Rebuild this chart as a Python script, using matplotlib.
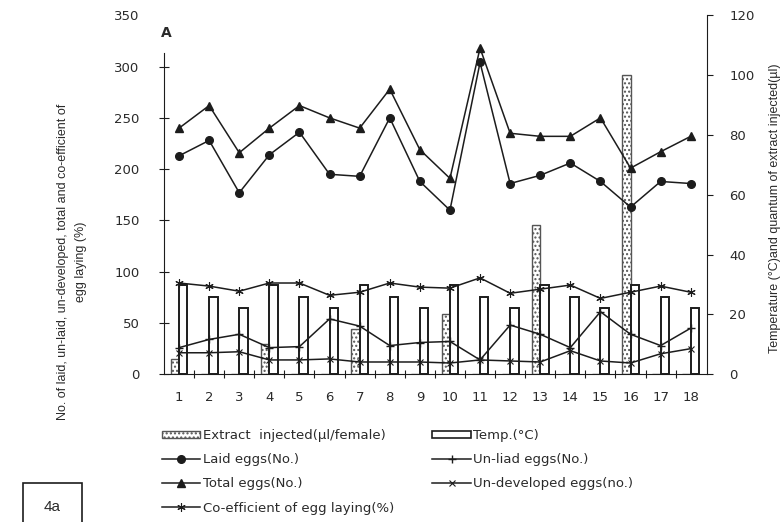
import numpy as np
import matplotlib
matplotlib.use("Agg")
import matplotlib.pyplot as plt
from matplotlib.patches import Rectangle, Patch
from matplotlib.lines import Line2D

# ---------------- data ----------------
days = [1, 2, 3, 4, 5, 6, 7, 8, 9, 10, 11, 12, 13, 14, 15, 16, 17, 18]
day_labels = [str(d) for d in days]
extract = [5, 0, 0, 10, 0, 0, 15, 0, 0, 20, 0, 0, 50, 0, 0, 100, 0, 0]
temp = [30, 26, 22, 30, 26, 22, 30, 26, 22, 30, 26, 22, 30, 26, 22, 30, 26, 22]
laid = [213, 228, 177, 214, 236, 195, 193, 250, 188, 160, 304, 186, 194, 206, 188, 163, 188, 186]
total = [240, 262, 216, 240, 262, 250, 240, 278, 219, 191, 318, 235, 232, 232, 250, 201, 217, 232]
unlaid = [26, 34, 39, 26, 27, 54, 47, 28, 31, 32, 14, 48, 39, 26, 61, 39, 28, 45]
undeveloped = [21, 21, 22, 14, 14, 15, 12, 12, 12, 11, 14, 13, 12, 23, 13, 11, 20, 25]
coeff = [89, 86, 81, 89, 89, 77, 80, 89, 85, 84, 94, 79, 83, 87, 74, 80, 86, 80]
left_ticks = [0, 50, 100, 150, 200, 250, 300, 350]
right_ticks = [0, 20, 40, 60, 80, 100, 120]

INK = "#1c1c1c"
TXT = "#2a2a2a"
TICKFONT = "DejaVu Sans"
LABELFONT = "Liberation Sans"

fig = plt.figure(figsize=(7.83, 5.22), dpi=100)
ax = fig.add_axes([164 / 783, 1 - 374.3 / 522, (707 - 164) / 783, (374.3 - 15.3) / 522])
ax2 = ax.twinx()
ax.set_zorder(ax2.get_zorder() + 1)
ax.patch.set_visible(False)

x = np.array(days, dtype=float)

# bars on the right axis
ax2.bar(x, extract, width=-0.28, align="edge", facecolor="white",
        edgecolor="#555555", hatch="....", linewidth=1.0)
ax2.bar(x, temp, width=0.28, align="edge", facecolor="white",
        edgecolor=INK, linewidth=1.4)

# lines on the left axis
l_laid, = ax.plot(x, laid, "-", marker="o", color=INK, ms=5.5, lw=1.1)
l_total, = ax.plot(x, total, "-", marker="^", color=INK, ms=5.5, lw=1.1)
l_unlaid, = ax.plot(x, unlaid, "-", marker="+", color=INK, ms=6, mew=1.0, lw=1.1)
l_undev, = ax.plot(x, undeveloped, "-", marker="x", color=INK, ms=4, mew=0.8, lw=1.1)
l_coeff, = ax.plot(x, coeff, "-", marker=(6, 2, 0), color=INK, ms=6, mew=0.8, lw=1.1)

# limits
ax.set_xlim(0.5, 18.54)
ax.set_ylim(0, 350)
ax2.set_ylim(0, 120)

# spines
for s in ["top", "right"]:
    ax.spines[s].set_visible(False)
for s in ["top", "left", "bottom"]:
    ax2.spines[s].set_visible(False)
ax.spines["left"].set_bounds(0, 313)
ax.spines["left"].set_color(INK)
ax.spines["bottom"].set_color(INK)
ax2.spines["right"].set_color(INK)

# ticks
ax.set_yticks(left_ticks)
ax.set_yticklabels([str(v) for v in left_ticks], family=TICKFONT)
ax.tick_params(axis="y", direction="inout", length=7, width=0.8, pad=14,
               labelsize=9.5, labelcolor=TXT, color=INK)
ax.yaxis.get_major_ticks()[-1].tick1line.set_visible(False)

ax.set_xticks(x)
ax.set_xticklabels(day_labels, family=TICKFONT)
ax.set_xticks(np.array(days[:-1]) + 0.5, minor=True)
ax.tick_params(axis="x", which="major", length=0, pad=12, labelsize=9.5, labelcolor=TXT)
ax.tick_params(axis="x", which="minor", direction="inout", length=6, width=0.8, color=INK)

ax2.set_yticks(right_ticks)
ax2.set_yticklabels([str(v) for v in right_ticks], family=TICKFONT)
ax2.tick_params(axis="y", direction="out", length=4, width=0.8, pad=12,
                labelsize=9.5, labelcolor=TXT, color=INK)

# texts
fig.text(166 / 783, 1 - 33 / 522, "A", fontsize=10, fontweight="bold",
         family=TICKFONT, color=TXT, ha="center", va="center")
fig.text(72 / 783, 1 - 262 / 522,
         "No. of laid, un-laid, un-developed, total and co-efficient of\negg laying (%)",
         rotation=90, ha="center", va="center", multialignment="center",
         fontsize=9, linespacing=1.6, family=LABELFONT, color=TXT)
fig.text(775 / 783, 1 - 208 / 522,
         "Temperature (°C)and quantum of extract injected(µl)",
         rotation=90, ha="center", va="center", fontsize=9,
         family=LABELFONT, color=TXT)

# legend
h_extract = Patch(facecolor="white", edgecolor="#555555", hatch="....", linewidth=1.0)
h_temp = Patch(facecolor="white", edgecolor=INK, linewidth=1.2)
handles = [h_extract, l_laid, l_total, l_coeff, h_temp, l_unlaid, l_undev]
labels = ["Extract  injected(µl/female)", "Laid eggs(No.)", "Total eggs(No.)",
          "Co-efficient of egg laying(%)", "Temp.(°C)", "Un-liad eggs(No.)",
          "Un-developed eggs(no.)"]
leg = fig.legend(handles, labels, ncol=2, loc="upper left",
                 bbox_to_anchor=(162 / 783, 1 - 429 / 522), frameon=False,
                 prop={"family": TICKFONT, "size": 9.5}, handlelength=2.9,
                 handleheight=0.5, handletextpad=0.2, columnspacing=2.9,
                 labelspacing=0.85, borderpad=0, borderaxespad=0)
for t in leg.get_texts():
    t.set_color(TXT)

# "4a" box
fig.patches.append(Rectangle((23 / 783, -0.02), 59 / 783, (522 - 483) / 522 + 0.02,
                             transform=fig.transFigure, fill=False,
                             edgecolor=INK, linewidth=1.2))
fig.text(52 / 783, 1 - 507 / 522, "4a", fontsize=11,
         family=["Liberation Sans Narrow", "Liberation Sans"], color=TXT,
         ha="center", va="center")

fig.savefig("out.png", dpi=100)
